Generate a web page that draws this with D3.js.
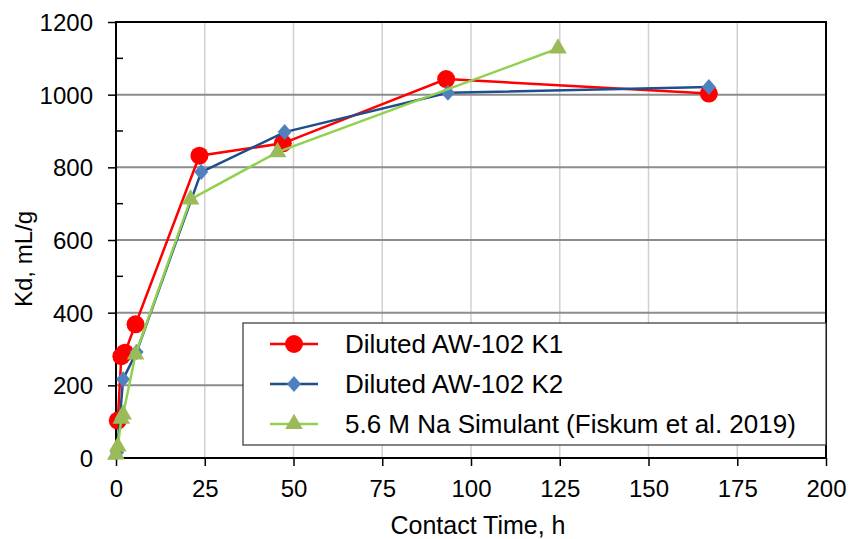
<!DOCTYPE html>
<html><head><meta charset="utf-8">
<script src="https://cdn.jsdelivr.net/npm/d3@7"></script>
<style>body{margin:0;background:#fff;} text{font-family:"Liberation Sans",Arial,sans-serif;}</style>
</head><body>
<svg id="c" width="860" height="539"></svg>
<script>
const k1X = [0.5, 1.5, 2.5, 5.5, 23.5, 47, 93, 167];
const k1Y = [103, 280, 290, 368, 832, 866, 1043, 1003];
const k2X = [0.3, 2, 5.8, 24, 47.5, 93.5, 167];
const k2Y = [15, 217, 292, 787, 897, 1005, 1021];
const nsX = [0, 0.5, 1.5, 2, 5.5, 21, 45.5, 124.5];
const nsY = [10, 32, 108, 120, 285, 712, 842, 1127];
const seriesNames = ["Diluted AW-102 K1", "Diluted AW-102 K2", "5.6 M Na Simulant (Fiskum et al. 2019)"];
const xTicks = [0,25,50,75,100,125,150,175,200];
const yTicks = [0,200,400,600,800,1000,1200];
const yMinor = [100,300,500,700,900,1100];

const svg = d3.select("#c");
const L=116, R=826, T=22, B=458;
const x = d3.scaleLinear().domain([0,200]).range([L,R]);
const y = d3.scaleLinear().domain([0,1200]).range([B,T]);

svg.append("g").selectAll("line").data(xTicks.slice(1,-1)).join("line")
  .attr("x1",d=>x(d)).attr("x2",d=>x(d)).attr("y1",T).attr("y2",B)
  .attr("stroke","#d0d0d0").attr("stroke-width",1.5);
svg.append("g").selectAll("line").data(yTicks.slice(1,-1)).join("line")
  .attr("x1",L).attr("x2",R).attr("y1",d=>y(d)).attr("y2",d=>y(d))
  .attr("stroke","#8c8c8c").attr("stroke-width",2);

svg.append("rect").attr("x",L).attr("y",T).attr("width",R-L).attr("height",B-T)
  .attr("fill","none").attr("stroke","#000").attr("stroke-width",2);

const xa = svg.append("g").attr("transform",`translate(0,${B})`)
  .call(d3.axisBottom(x).tickValues(xTicks).tickSize(8).tickPadding(8).tickFormat(d3.format("d")));
const ya = svg.append("g").attr("transform",`translate(${L},0)`)
  .call(d3.axisLeft(y).tickValues(yTicks).tickSize(8).tickPadding(15).tickFormat(d3.format("d")));
[xa,ya].forEach(a=>{a.select(".domain").remove();
  a.selectAll("line").attr("stroke","#000").attr("stroke-width",1.5);
  a.selectAll("text").attr("font-size",24).attr("fill","#000").style("font-family",'"Liberation Sans",Arial,sans-serif');});
xa.selectAll("text").attr("y",39).attr("dy",0);
ya.selectAll("text").attr("dy","0.35em");
svg.append("g").selectAll("line").data(yMinor).join("line")
  .attr("x1",L).attr("x2",L+7).attr("y1",d=>y(d)).attr("y2",d=>y(d))
  .attr("stroke","#000").attr("stroke-width",1.5);

svg.append("text").attr("x",478).attr("y",534).attr("text-anchor","middle")
  .attr("font-size",25).text("Contact Time, h");
svg.append("text").attr("transform",`translate(32,259) rotate(-90)`).attr("text-anchor","middle")
  .attr("font-size",24).text("Kd, mL/g");

const diamond = "M0,-8L7,0L0,8L-7,0Z";
const line = d3.line().x(d=>x(d[0])).y(d=>y(d[1]));
const series = [
  {xs:k1X, ys:k1Y, line:"#ff0000", fill:"#ff0000", sym:d3.symbol().type(d3.symbolCircle).size(254)()},
  {xs:k2X, ys:k2Y, line:"#1f4e8c", fill:"#4f81bd", sym:diamond},
  {xs:nsX, ys:nsY, line:"#92d050", fill:"#9bbb59", sym:d3.symbol().type(d3.symbolTriangle).size(135)()},
];
series.forEach(s=>{
  const pts = s.xs.map((v,i)=>[v,s.ys[i]]);
  svg.append("path").datum(pts).attr("d",line).attr("fill","none")
    .attr("stroke",s.line).attr("stroke-width",2.5);
  svg.append("g").selectAll("path").data(pts).join("path")
    .attr("transform",d=>`translate(${x(d[0])},${y(d[1])})`)
    .attr("d",s.sym).attr("fill",s.fill);
});

const lg = svg.append("g");
lg.append("rect").attr("x",243).attr("y",323).attr("width",583).attr("height",122)
  .attr("fill","#fff").attr("stroke","#333").attr("stroke-width",1.2);
series.forEach((s,i)=>{
  const cy = 344 + i*40;
  lg.append("line").attr("x1",270).attr("x2",318).attr("y1",cy).attr("y2",cy)
    .attr("stroke",s.line).attr("stroke-width",2.5);
  lg.append("path").attr("transform",`translate(294,${cy})`)
    .attr("d",s.sym).attr("fill",s.fill);
  lg.append("text").attr("x",345).attr("y",cy+9).attr("font-size",26)
    .text(seriesNames[i]);
});
</script>
</body></html>
